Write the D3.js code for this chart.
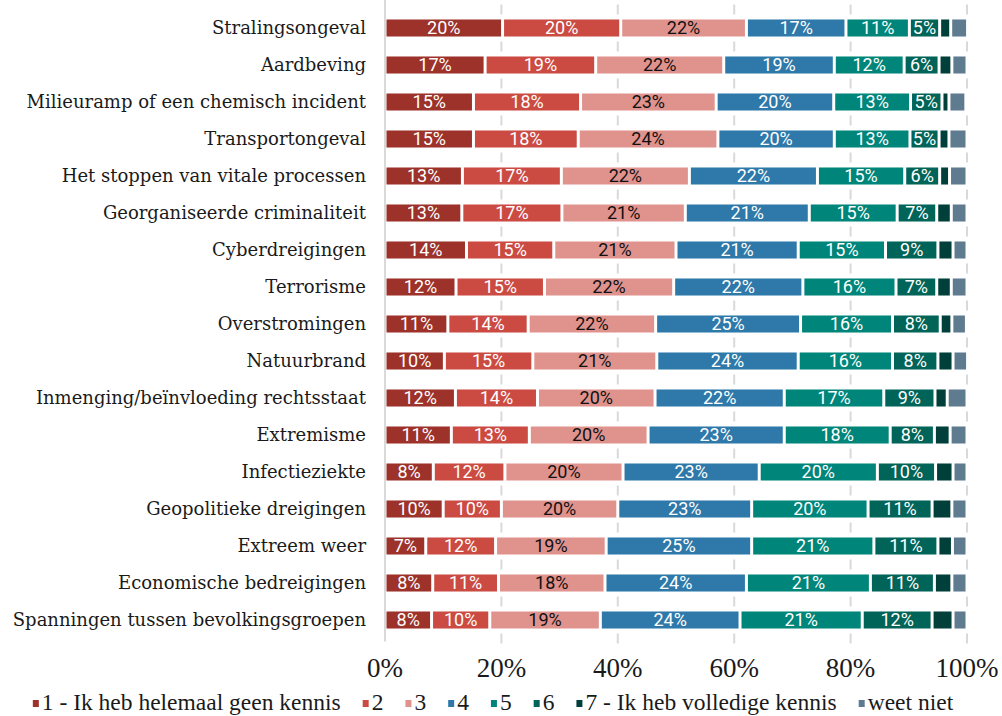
<!DOCTYPE html>
<html>
<head>
<meta charset="utf-8">
<script src="https://cdn.jsdelivr.net/npm/d3@7"></script>
<style>
    html, body { margin: 0; padding: 0; background: #fff; }
    svg { display: block; }
    .cat-label { font-family: "DejaVu Serif", serif; font-size: 18px; fill: #1a1a1a; }
    .tick-label { font-family: "Liberation Serif", serif; font-size: 27px; fill: #1a1a1a; }
    .legend-label { font-family: "Liberation Serif", serif; font-size: 23.5px; fill: #1a1a1a; }
    .bar-label { font-family: Roboto, sans-serif; font-size: 18px; }
</style>
</head>
<body>
<svg id="chart"></svg>
<script>
    var categories = [
        "Stralingsongeval",
        "Aardbeving",
        "Milieuramp of een chemisch incident",
        "Transportongeval",
        "Het stoppen van vitale processen",
        "Georganiseerde criminaliteit",
        "Cyberdreigingen",
        "Terrorisme",
        "Overstromingen",
        "Natuurbrand",
        "Inmenging/beïnvloeding rechtsstaat",
        "Extremisme",
        "Infectieziekte",
        "Geopolitieke dreigingen",
        "Extreem weer",
        "Economische bedreigingen",
        "Spanningen tussen bevolkingsgroepen"
    ];

    var seriesNames = [
        "1 - Ik heb helemaal geen kennis", "2", "3", "4", "5", "6",
        "7 - Ik heb volledige kennis", "weet niet"
    ];

    var seriesColors = [
        "#9c3229", "#cb4b43", "#e0928d", "#2e79a9",
        "#00857a", "#006459", "#003f3a", "#5f7b8f"
    ];

    // one row per category, one value per series (percent)
    var values = [
        [20.2, 20.3, 21.6, 17.1, 10.9, 5.2, 1.9, 2.9],
        [17.2, 19.0, 22.0, 19.0, 12.0, 6.0, 2.2, 2.6],
        [15.2, 18.4, 23.3, 20.2, 13.2, 5.4, 1.2, 2.9],
        [15.2, 18.0, 24.0, 20.0, 13.0, 5.0, 1.7, 3.1],
        [13.3, 17.0, 22.0, 22.0, 15.0, 6.0, 1.7, 3.0],
        [13.2, 17.2, 21.2, 21.3, 15.1, 6.8, 2.5, 2.7],
        [14.0, 15.0, 21.0, 21.0, 15.0, 9.0, 2.6, 2.4],
        [12.2, 15.2, 22.2, 22.2, 16.0, 7.0, 2.5, 2.7],
        [10.8, 13.8, 21.9, 24.9, 15.8, 8.2, 2.0, 2.5],
        [10.2, 15.2, 21.3, 24.3, 16.2, 7.8, 2.6, 2.5],
        [12.1, 14.1, 20.2, 22.2, 17.1, 8.8, 2.1, 3.4],
        [11.4, 13.4, 20.4, 23.4, 18.2, 7.6, 2.7, 2.9],
        [8.3, 12.3, 20.3, 23.4, 20.3, 10.0, 3.0, 2.4],
        [10.0, 10.0, 20.0, 23.0, 20.0, 11.0, 3.4, 2.6],
        [7.0, 12.0, 19.0, 25.0, 21.0, 11.0, 2.5, 2.5],
        [8.2, 11.3, 18.3, 24.3, 21.3, 11.0, 3.0, 2.6],
        [8.0, 10.0, 19.0, 24.0, 21.0, 12.0, 3.6, 2.4]
    ];

    // labels are printed on the first six series only
    var labelledSeries = [0, 1, 2, 3, 4, 5];
    var darkTextSeries = [2];

    var tickValues = [0, 20, 40, 60, 80, 100];

    var width = 1002, height = 716;
    var margin = { left: 385, right: 35, top: 9.5, bottom: 77.5 };

    var svg = d3.select("#chart")
        .attr("width", width)
        .attr("height", height);

    var x = d3.scaleLinear()
        .domain([0, 100])
        .range([margin.left, width - margin.right]);

    var y = d3.scaleBand()
        .domain(categories)
        .range([margin.top, height - margin.bottom])
        .paddingInner(0.54)
        .paddingOuter(0.27);

    var gridTop = y.range()[0] - 5;
    var gridBottom = y.range()[1] + 5;

    // dashed gridlines, dashes sit in the gaps between rows
    svg.append("g")
        .selectAll("line")
        .data(tickValues.slice(1))
        .enter()
        .append("line")
        .attr("x1", function(d) { return x(d); })
        .attr("x2", function(d) { return x(d); })
        .attr("y1", gridTop)
        .attr("y2", gridBottom)
        .attr("stroke", "#d9d9d9")
        .attr("stroke-width", 2)
        .attr("stroke-dasharray", "10," + (y.step() - 10));

    svg.append("line")
        .attr("x1", x(0))
        .attr("x2", x(0))
        .attr("y1", 0)
        .attr("y2", gridBottom - 2)
        .attr("stroke", "#d9d9d9")
        .attr("stroke-width", 2);

    var stack = d3.stack()
        .keys(d3.range(seriesNames.length))
        .value(function(row, key) { return row[key]; });

    var layers = stack(values);

    var gap = 3;

    var series = svg.append("g")
        .selectAll("g")
        .data(layers)
        .enter()
        .append("g")
        .attr("fill", function(d) { return seriesColors[d.key]; });

    series.selectAll("rect")
        .data(function(d) { return d; })
        .enter()
        .append("rect")
        .attr("x", function(d) { return x(d[0]) + gap / 2; })
        .attr("y", function(d, i) { return y(categories[i]); })
        .attr("width", function(d) { return Math.max(0, x(d[1]) - x(d[0]) - gap); })
        .attr("height", y.bandwidth());

    series.filter(function(d) { return labelledSeries.indexOf(d.key) >= 0; })
        .each(function(layer) {
            d3.select(this).selectAll("text")
                .data(layer)
                .enter()
                .append("text")
                .attr("class", "bar-label")
                .attr("x", function(d) { return (x(d[0]) + x(d[1])) / 2; })
                .attr("y", function(d, i) { return y(categories[i]) + y.bandwidth() / 2; })
                .attr("dy", "0.36em")
                .attr("text-anchor", "middle")
                .attr("fill", darkTextSeries.indexOf(layer.key) >= 0 ? "#111" : "#fff")
                .text(function(d) { return Math.round(d[1] - d[0]) + "%"; });
        });

    // category labels
    svg.append("g")
        .selectAll("text")
        .data(categories)
        .enter()
        .append("text")
        .attr("class", "cat-label")
        .attr("x", x(0) - 19)
        .attr("y", function(d) { return y(d) + y.bandwidth() / 2; })
        .attr("dy", "0.35em")
        .attr("text-anchor", "end")
        .text(function(d) { return d; });

    // x tick labels
    svg.append("g")
        .selectAll("text")
        .data(tickValues)
        .enter()
        .append("text")
        .attr("class", "tick-label")
        .attr("x", function(d) { return x(d); })
        .attr("y", 668)
        .attr("dy", "0.35em")
        .attr("text-anchor", "middle")
        .text(function(d) { return d + "%"; });

    // legend, laid out left to right then centred
    var legend = svg.append("g");
    var cursor = 0;
    var itemGap = 22;
    seriesNames.forEach(function(name, i) {
        var item = legend.append("g").attr("transform", "translate(" + cursor + ",0)");
        item.append("rect")
            .attr("x", 0)
            .attr("y", -2)
            .attr("width", 6)
            .attr("height", 7)
            .attr("fill", seriesColors[i]);
        var label = item.append("text")
            .attr("class", "legend-label")
            .attr("x", 9)
            .attr("y", 0)
            .attr("dy", "0.35em")
            .text(name);
        cursor += 9 + label.node().getComputedTextLength() + itemGap;
    });
    var legendWidth = cursor - itemGap;
    legend.attr("transform", "translate(" + (493 - legendWidth / 2) + ",702)");
</script>
</body>
</html>
